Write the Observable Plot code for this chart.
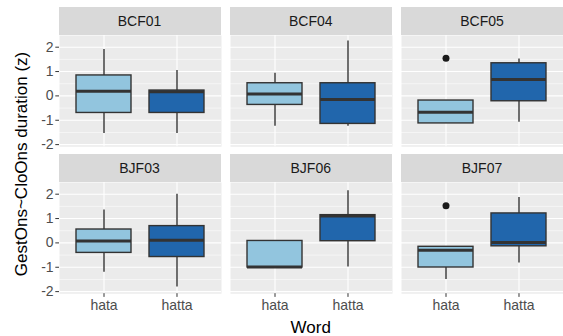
<!DOCTYPE html>
<html><head><meta charset="utf-8">
<script src="https://cdn.jsdelivr.net/npm/d3@7"></script>
<script src="https://cdn.jsdelivr.net/npm/@observablehq/plot@0.6"></script>
<style>
body{margin:0;background:#fff;}
#chart{position:relative;width:563px;height:336px;font-family:"Liberation Sans",Arial,Helvetica,sans-serif;overflow:hidden;background:#fff;}
.strip{position:absolute;background:#D9D9D9;color:#1A1A1A;font-size:14px;display:flex;align-items:center;justify-content:center;}
.panel{position:absolute;}
#titles{position:absolute;left:0;top:0;pointer-events:none;}
</style></head><body><div id="chart"></div>
<script>
// ---- data ----
const speakers = ["BCF01", "BCF04", "BCF05", "BJF03", "BJF06", "BJF07"];
const words = ["hata", "hatta"];
// one [hata, hatta] pair per speaker
const whiskerLow  = [[-1.54, -1.54], [-1.25, -1.25], [-1.13, -1.08], [-1.20, -1.81], [-1.01, -0.99], [-1.50, -0.82]];
const q1          = [[-0.70, -0.70], [-0.37, -1.15], [-1.13, -0.22], [-0.41, -0.58], [-1.01,  0.07], [-1.01, -0.14]];
const median      = [[ 0.19,  0.17], [ 0.08, -0.15], [-0.67,  0.67], [ 0.08,  0.11], [-0.99,  1.10], [-0.30,  0.02]];
const q3          = [[ 0.84,  0.22], [ 0.52,  0.52], [-0.19,  1.34], [ 0.55,  0.69], [ 0.08,  1.14], [-0.16,  1.21]];
const whiskerHigh = [[ 1.91,  1.04], [ 0.93,  2.25], [-0.19,  1.52], [ 1.35,  2.00], [ 0.08,  2.14], [-0.16,  1.86]];
const outlierSpeaker = ["BCF05", "BJF07"];
const outlierWord    = ["hata", "hata"];
const outlierValue   = [1.55, 1.53];
const yTicks = [-2, -1, 0, 1, 2];
const yMinor = [-1.5, -0.5, 0.5, 1.5];
const fillColors = ["#92C5DE", "#2166AC"];
const yTitle = "GestOns~CloOns duration (z)";
const xTitle = "Word";

// ---- layout ----
const L = 58.5, W = 162, GAP = 9.25, TOP = 6.8, STRIP = 27.8, PH = 111.2, RGAP = 8.5;
const yDomain = [-2.085, 2.48];
const chart = document.getElementById("chart");

speakers.forEach((sp, i) => {
  const row = Math.floor(i / 3), col = i % 3;
  const left = L + col * (W + GAP);
  const stripTop = TOP + row * (STRIP + PH + RGAP);
  const panelTop = stripTop + STRIP;

  const strip = document.createElement("div");
  strip.className = "strip";
  strip.style.left = left + "px";
  strip.style.top = stripTop + "px";
  strip.style.width = W + "px";
  strip.style.height = STRIP + "px";
  strip.textContent = sp;
  chart.appendChild(strip);

  const rows = words.map((w, j) => ({
    word: w, lo: whiskerLow[i][j], q1: q1[i][j], med: median[i][j], q3: q3[i][j], hi: whiskerHigh[i][j]
  }));
  const outs = outlierSpeaker.map((s, k) => ({s, word: outlierWord[k], value: outlierValue[k]})).filter(d => d.s === sp);

  const mL = col === 0 ? 40 : 0;
  const mB = row === 1 ? 26 : 0;
  const marks = [
    Plot.frame({fill: "#EBEBEB", stroke: "none"}),
    Plot.ruleY(yMinor, {stroke: "#fff", strokeWidth: 0.55}),
    Plot.ruleY(yTicks, {stroke: "#fff", strokeWidth: 1.1}),
    Plot.ruleX(words, {x: d => d, stroke: "#fff", strokeWidth: 1.1}),
    Plot.ruleX(rows, {x: "word", y1: "lo", y2: "hi", stroke: "#333", strokeWidth: 1.4}),
    Plot.barY(rows, {x: "word", y1: "q1", y2: "q3", fill: "word", stroke: "#333", strokeWidth: 1.4}),
    Plot.tickY(rows, {x: "word", y: "med", stroke: "#333", strokeWidth: 3}),
    Plot.dot(outs, {x: "word", y: "value", r: 3.5, fill: "#1A1A1A", stroke: "none"})
  ];
  if (col === 0) marks.push(
    Plot.axisY(yTicks, {tickSize: 3.7, tickPadding: 2.2, tickFormat: d => String(d), stroke: "#333", fill: "#4D4D4D", label: null, fontSize: 14})
  );
  if (row === 1) marks.push(
    Plot.axisX({tickSize: 3.7, tickPadding: 2.5, stroke: "#333", fill: "#4D4D4D", label: null, fontSize: 14})
  );

  const opts = {
    width: W + mL, height: PH + mB,
    marginLeft: mL, marginRight: 0, marginTop: 0, marginBottom: mB,
    x: {type: "band", domain: words, paddingInner: 0.25, paddingOuter: 0.225},
    y: {domain: yDomain},
    color: {domain: words, range: fillColors},
    style: {fontFamily: "'Liberation Sans', Arial, Helvetica, sans-serif", fontSize: "14px", background: "transparent", overflow: "visible"},
    marks
  };
  if (col !== 0) opts.y.axis = null;
  if (row !== 1) opts.x.axis = null;
  const svg = Plot.plot(opts);
  svg.classList.add("panel");
  svg.style.left = (left - mL) + "px";
  svg.style.top = panelTop + "px";
  chart.appendChild(svg);
});

// axis titles
const ns = "http://www.w3.org/2000/svg";
const t = document.createElementNS(ns, "svg");
t.setAttribute("id", "titles");
t.setAttribute("width", 563);
t.setAttribute("height", 336);
const panelsTop = TOP + STRIP, panelsBottom = TOP + 2 * (STRIP + PH) + RGAP;
const yt = document.createElementNS(ns, "text");
yt.setAttribute("transform", `translate(26.5,${(panelsTop + panelsBottom) / 2}) rotate(-90)`);
yt.setAttribute("text-anchor", "middle");
yt.setAttribute("font-size", "17");
yt.setAttribute("font-family", "'Liberation Sans', Arial, sans-serif");
yt.textContent = yTitle;
t.appendChild(yt);
const xt = document.createElementNS(ns, "text");
xt.setAttribute("x", (L + 3 * W + 2 * GAP + L) / 2);
xt.setAttribute("y", 332.5);
xt.setAttribute("text-anchor", "middle");
xt.setAttribute("font-size", "17");
xt.setAttribute("font-family", "'Liberation Sans', Arial, sans-serif");
xt.textContent = xTitle;
t.appendChild(xt);
chart.appendChild(t);
</script></body></html>
